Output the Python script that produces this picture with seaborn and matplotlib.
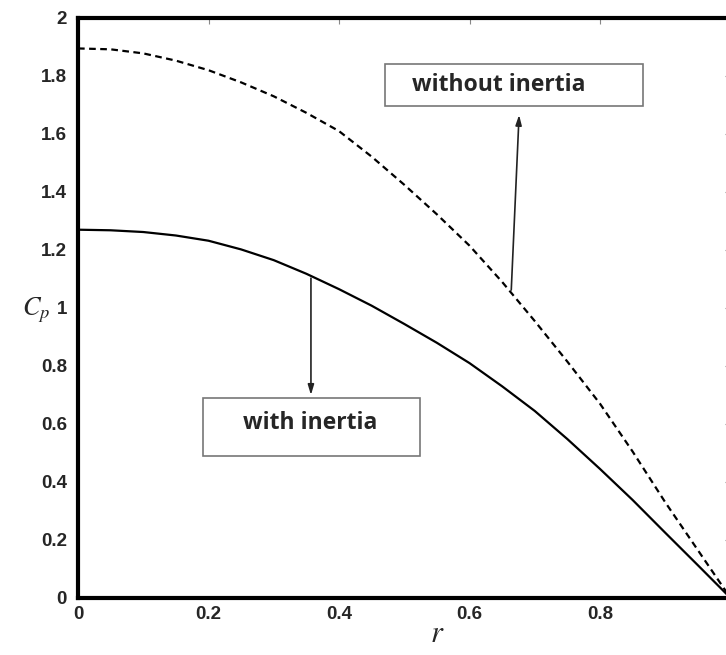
import matplotlib
matplotlib.use("Agg")
import matplotlib.pyplot as plt
import seaborn as sns
import pandas as pd
from matplotlib.patches import Rectangle

# values
r_vals = [0.0, 0.05, 0.1, 0.15, 0.2, 0.25, 0.3, 0.35, 0.4, 0.45, 0.5,
          0.55, 0.6, 0.65, 0.7, 0.75, 0.8, 0.85, 0.9, 0.95, 1.0]
cp_with = [1.27, 1.268, 1.262, 1.25, 1.232, 1.202, 1.165, 1.118, 1.065, 1.008, 0.945,
           0.88, 0.81, 0.73, 0.645, 0.548, 0.445, 0.338, 0.225, 0.113, 0.0]
cp_without = [1.895, 1.892, 1.878, 1.853, 1.82, 1.778, 1.73, 1.673, 1.61, 1.522, 1.425,
              1.323, 1.215, 1.09, 0.955, 0.815, 0.67, 0.505, 0.33, 0.165, 0.0]
x_ticks = [0, 0.2, 0.4, 0.6, 0.8]
x_labels = ["0", "0.2", "0.4", "0.6", "0.8"]
y_ticks = [0, 0.2, 0.4, 0.6, 0.8, 1.0, 1.2, 1.4, 1.6, 1.8, 2.0]
y_labels = ["0", "0.2", "0.4", "0.6", "0.8", "1", "1.2", "1.4", "1.6", "1.8", "2"]

sns.set_style("white")
plt.rcParams["font.family"] = ["Liberation Sans", "DejaVu Sans"]
plt.rcParams["mathtext.fontset"] = "stix"

df = pd.DataFrame({"r": r_vals, "with": cp_with, "without": cp_without})

fig = plt.figure(figsize=(7.26, 6.55), dpi=100)
# axes extends a little past the right edge of the figure, as in the reference crop
ax = fig.add_axes([78 / 726, 57 / 655, 652.5 / 726, 580 / 655])

sns.lineplot(data=df, x="r", y="with", ax=ax, color="black", lw=1.6)
sns.lineplot(data=df, x="r", y="without", ax=ax, color="black", lw=1.6,
             linestyle=(0, (3, 2)))

ax.set_xlim(0, 1)
ax.set_ylim(0, 2)
ax.set_xticks(x_ticks)
ax.set_xticklabels(x_labels)
ax.set_yticks(y_ticks)
ax.set_yticklabels(y_labels)
ax.tick_params(direction="in", top=True, right=True, length=4, width=0.8,
               color="#888888", labelsize=13.5)
ax.tick_params(axis="x", pad=6)
ax.tick_params(axis="y", pad=8)
for lab in ax.get_xticklabels() + ax.get_yticklabels():
    lab.set_fontweight("bold")

for s in ax.spines.values():
    s.set_linewidth(3)
    s.set_color("black")

ax.set_xlabel("$r$", fontsize=22)
ax.xaxis.set_label_coords(0.55, -0.036)
ax.set_ylabel("$C_p$", fontsize=19, rotation=0)
ax.yaxis.set_label_coords(-0.064, 0.47)

# annotation boxes
ax.add_patch(Rectangle((0.4705, 1.697), 0.3955, 0.144, fill=False,
                       edgecolor="#777777", lw=1.2, zorder=3))
ax.text(0.512, 1.769, "without inertia", fontsize=16.5, fontweight="bold",
        family="Open Sans", ha="left", va="center")
ax.add_patch(Rectangle((0.1916, 0.49), 0.3324, 0.2, fill=False,
                       edgecolor="#777777", lw=1.2, zorder=3))
ax.text(0.356, 0.603, "with inertia", fontsize=16.5, fontweight="bold",
        family="Open Sans", ha="center", va="center")

arrow = dict(arrowstyle="-|>,head_length=0.6,head_width=0.18", color="#222222",
             lw=1.2, shrinkA=0, shrinkB=0)
ax.annotate("", xy=(0.676, 1.666), xytext=(0.664, 1.062), arrowprops=arrow)
ax.annotate("", xy=(0.357, 0.70), xytext=(0.357, 1.103), arrowprops=arrow)

fig.savefig("out.png", dpi=100)
